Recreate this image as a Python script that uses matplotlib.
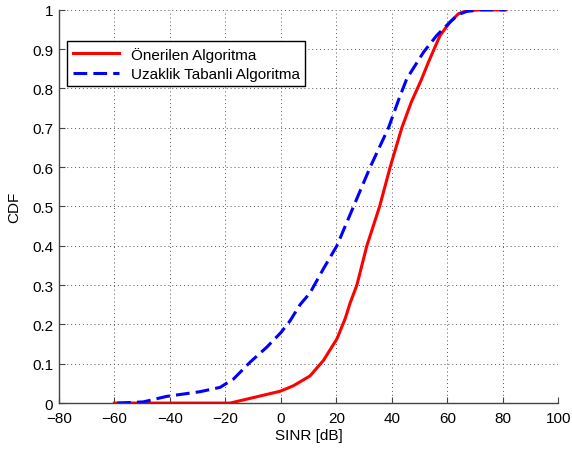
import numpy as np
import matplotlib.pyplot as plt

plt.rcParams['font.family'] = ['Liberation Sans', 'DejaVu Sans']

# Önerilen Algoritma (proposed) - CDF points
RED_X = [-60, -40, -18.3, -11.1, -6.3, -0.3, 4.5, 10.5, 15.3, 20.2, 23.2, 25, 27.4,
         31, 35.6, 39.4, 43.6, 47, 50.5, 53.2, 57.4, 61, 64, 67, 72, 81]
RED_Y = [0, 0, 0, 0.012, 0.02, 0.030, 0.044, 0.069, 0.108, 0.163, 0.215, 0.255, 0.3,
         0.4, 0.5, 0.6, 0.7, 0.765, 0.82, 0.867, 0.935, 0.969, 0.99, 0.998, 1.0, 1.0]

# Uzaklik Tabanli Algoritma (distance based)
BLUE_X = [-59, -49.6, -41.2, -29.1, -21.9, -17.1, -11.1, -5.1, 0.1, 3.3, 6.9, 10.5,
          15.3, 20.2, 26.2, 32.2, 38.8, 42.7, 45.4, 51.4, 56.2, 61, 64, 67, 72, 81]
BLUE_Y = [0.0, 0.003, 0.017, 0.029, 0.04, 0.061, 0.104, 0.142, 0.18, 0.209, 0.25, 0.28,
          0.341, 0.4, 0.5, 0.6, 0.7, 0.776, 0.825, 0.892, 0.935, 0.969, 0.988, 0.996, 1.0, 1.0]


def main():
    fig = plt.figure(figsize=(5.72, 4.52), dpi=100)
    ax = fig.add_axes([0.103, 0.106, 0.873, 0.870])

    ax.plot(RED_X, RED_Y, "-", color="#ff0000", linewidth=2.2,
            label="Önerilen Algoritma")
    ax.plot(BLUE_X, BLUE_Y, "--", color="#0000ff", linewidth=2.2,
            dashes=(4.5, 2), label="Uzaklik Tabanli Algoritma")

    ax.set_xlim(-80, 100)
    ax.set_ylim(0, 1)
    ax.set_xticks(np.arange(-80, 101, 20))
    ax.set_yticks(np.arange(0, 1.01, 0.1))
    ax.set_yticklabels(["0", "0.1", "0.2", "0.3", "0.4", "0.5", "0.6", "0.7",
                        "0.8", "0.9", "1"])
    ax.set_xticklabels(["\u221280", "\u221260", "\u221240", "\u221220", "0",
                        "20", "40", "60", "80", "100"])
    ax.tick_params(direction="in", labelsize=11, length=4, color="#444444")
    ax.tick_params(axis="x", pad=6)
    ax.tick_params(axis="y", pad=4)
    ax.grid(True, linestyle=(0, (1, 3)), color="#555555", linewidth=0.7)

    for s in ("top", "right"):
        ax.spines[s].set_visible(False)
    for s in ("left", "bottom"):
        ax.spines[s].set_color("#444444")
        ax.spines[s].set_linewidth(1.0)

    ax.set_xlabel("SINR [dB]", fontsize=11, labelpad=2)
    ax.set_ylabel("CDF", fontsize=11, labelpad=8)

    leg = ax.legend(loc="upper left", bbox_to_anchor=(0.017, 0.92),
                    fontsize=11, fancybox=False, framealpha=1,
                    edgecolor="black", handlelength=3.0, borderpad=0.35,
                    labelspacing=0.35, borderaxespad=0)
    leg.get_frame().set_linewidth(1.0)

    fig.savefig("out.png", dpi=100)


if __name__ == "__main__":
    main()
